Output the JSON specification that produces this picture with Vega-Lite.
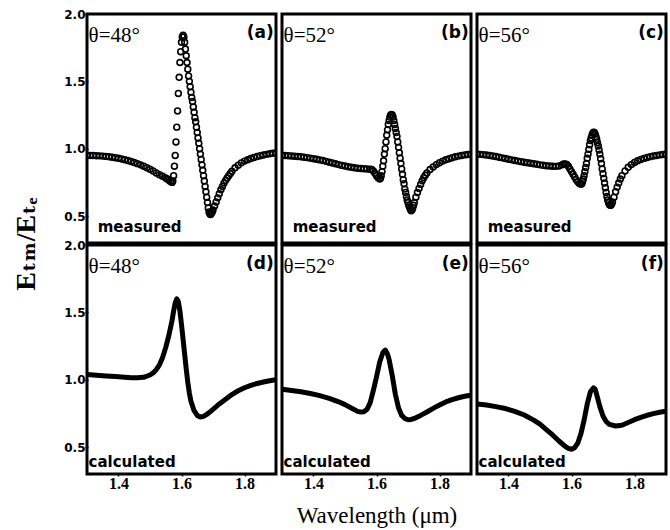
{
  "$schema": "https://vega.github.io/schema/vega-lite/v6.json",
  "padding": {"left": 13, "top": 8, "right": 3, "bottom": 3},
  "background": "white",
  "data": {"values": [
    {"k":"measured","t":48,"ang":"θ=48°","lab":"(a)"},
    {"k":"measured","t":52,"ang":"θ=52°","lab":"(b)"},
    {"k":"measured","t":56,"ang":"θ=56°","lab":"(c)"},
    {"k":"calculated","t":48,"ang":"θ=48°","lab":"(d)"},
    {"k":"calculated","t":52,"ang":"θ=52°","lab":"(e)"},
    {"k":"calculated","t":56,"ang":"θ=56°","lab":"(f)"},
    {"k":"measured","t":48,"x":1.30,"y":0.950},{"k":"measured","t":48,"x":1.31,"y":0.950},{"k":"measured","t":48,"x":1.32,"y":0.949},{"k":"measured","t":48,"x":1.33,"y":0.948},{"k":"measured","t":48,"x":1.34,"y":0.947},{"k":"measured","t":48,"x":1.35,"y":0.945},{"k":"measured","t":48,"x":1.36,"y":0.943},{"k":"measured","t":48,"x":1.37,"y":0.940},{"k":"measured","t":48,"x":1.38,"y":0.937},{"k":"measured","t":48,"x":1.39,"y":0.933},{"k":"measured","t":48,"x":1.40,"y":0.929},{"k":"measured","t":48,"x":1.41,"y":0.924},{"k":"measured","t":48,"x":1.42,"y":0.918},{"k":"measured","t":48,"x":1.43,"y":0.912},{"k":"measured","t":48,"x":1.44,"y":0.905},{"k":"measured","t":48,"x":1.45,"y":0.897},{"k":"measured","t":48,"x":1.46,"y":0.889},{"k":"measured","t":48,"x":1.47,"y":0.880},{"k":"measured","t":48,"x":1.48,"y":0.870},{"k":"measured","t":48,"x":1.49,"y":0.859},{"k":"measured","t":48,"x":1.50,"y":0.847},{"k":"measured","t":48,"x":1.51,"y":0.834},{"k":"measured","t":48,"x":1.52,"y":0.820},{"k":"measured","t":48,"x":1.53,"y":0.807},{"k":"measured","t":48,"x":1.54,"y":0.795},{"k":"measured","t":48,"x":1.55,"y":0.782},{"k":"measured","t":48,"x":1.555,"y":0.775},{"k":"measured","t":48,"x":1.56,"y":0.766},{"k":"measured","t":48,"x":1.565,"y":0.757},{"k":"measured","t":48,"x":1.57,"y":0.750},{"k":"measured","t":48,"x":1.5725,"y":0.76},{"k":"measured","t":48,"x":1.575,"y":0.80},{"k":"measured","t":48,"x":1.5775,"y":0.87},{"k":"measured","t":48,"x":1.58,"y":0.95},{"k":"measured","t":48,"x":1.5825,"y":1.05},{"k":"measured","t":48,"x":1.585,"y":1.16},{"k":"measured","t":48,"x":1.5875,"y":1.28},{"k":"measured","t":48,"x":1.59,"y":1.41},{"k":"measured","t":48,"x":1.5925,"y":1.53},{"k":"measured","t":48,"x":1.595,"y":1.64},{"k":"measured","t":48,"x":1.5975,"y":1.72},{"k":"measured","t":48,"x":1.60,"y":1.79},{"k":"measured","t":48,"x":1.6025,"y":1.83},{"k":"measured","t":48,"x":1.605,"y":1.843},{"k":"measured","t":48,"x":1.6075,"y":1.83},{"k":"measured","t":48,"x":1.61,"y":1.79},{"k":"measured","t":48,"x":1.6125,"y":1.74},{"k":"measured","t":48,"x":1.615,"y":1.69},{"k":"measured","t":48,"x":1.6175,"y":1.64},{"k":"measured","t":48,"x":1.62,"y":1.59},{"k":"measured","t":48,"x":1.6225,"y":1.54},{"k":"measured","t":48,"x":1.625,"y":1.50},{"k":"measured","t":48,"x":1.6275,"y":1.46},{"k":"measured","t":48,"x":1.63,"y":1.42},{"k":"measured","t":48,"x":1.6325,"y":1.38},{"k":"measured","t":48,"x":1.635,"y":1.35},{"k":"measured","t":48,"x":1.6375,"y":1.31},{"k":"measured","t":48,"x":1.64,"y":1.27},{"k":"measured","t":48,"x":1.6425,"y":1.23},{"k":"measured","t":48,"x":1.645,"y":1.20},{"k":"measured","t":48,"x":1.6475,"y":1.16},{"k":"measured","t":48,"x":1.65,"y":1.12},{"k":"measured","t":48,"x":1.6525,"y":1.08},{"k":"measured","t":48,"x":1.655,"y":1.04},{"k":"measured","t":48,"x":1.6575,"y":1.00},{"k":"measured","t":48,"x":1.66,"y":0.96},{"k":"measured","t":48,"x":1.6625,"y":0.92},{"k":"measured","t":48,"x":1.665,"y":0.88},{"k":"measured","t":48,"x":1.6675,"y":0.84},{"k":"measured","t":48,"x":1.67,"y":0.80},{"k":"measured","t":48,"x":1.6725,"y":0.76},{"k":"measured","t":48,"x":1.675,"y":0.72},{"k":"measured","t":48,"x":1.6775,"y":0.68},{"k":"measured","t":48,"x":1.68,"y":0.64},{"k":"measured","t":48,"x":1.6825,"y":0.60},{"k":"measured","t":48,"x":1.685,"y":0.56},{"k":"measured","t":48,"x":1.6875,"y":0.53},{"k":"measured","t":48,"x":1.69,"y":0.515},{"k":"measured","t":48,"x":1.6925,"y":0.512},{"k":"measured","t":48,"x":1.695,"y":0.52},{"k":"measured","t":48,"x":1.6975,"y":0.53},{"k":"measured","t":48,"x":1.70,"y":0.545},{"k":"measured","t":48,"x":1.705,"y":0.575},{"k":"measured","t":48,"x":1.71,"y":0.605},{"k":"measured","t":48,"x":1.715,"y":0.635},{"k":"measured","t":48,"x":1.72,"y":0.665},{"k":"measured","t":48,"x":1.725,"y":0.695},{"k":"measured","t":48,"x":1.73,"y":0.72},{"k":"measured","t":48,"x":1.735,"y":0.745},{"k":"measured","t":48,"x":1.74,"y":0.765},{"k":"measured","t":48,"x":1.745,"y":0.783},{"k":"measured","t":48,"x":1.75,"y":0.80},{"k":"measured","t":48,"x":1.755,"y":0.816},{"k":"measured","t":48,"x":1.76,"y":0.832},{"k":"measured","t":48,"x":1.77,"y":0.858},{"k":"measured","t":48,"x":1.78,"y":0.878},{"k":"measured","t":48,"x":1.79,"y":0.895},{"k":"measured","t":48,"x":1.80,"y":0.908},{"k":"measured","t":48,"x":1.81,"y":0.918},{"k":"measured","t":48,"x":1.82,"y":0.927},{"k":"measured","t":48,"x":1.83,"y":0.935},{"k":"measured","t":48,"x":1.84,"y":0.942},{"k":"measured","t":48,"x":1.85,"y":0.948},{"k":"measured","t":48,"x":1.86,"y":0.953},{"k":"measured","t":48,"x":1.87,"y":0.958},{"k":"measured","t":48,"x":1.88,"y":0.962},{"k":"measured","t":48,"x":1.89,"y":0.966},{"k":"measured","t":48,"x":1.90,"y":0.968},
    {"k":"measured","t":52,"x":1.30,"y":0.950},{"k":"measured","t":52,"x":1.31,"y":0.949},{"k":"measured","t":52,"x":1.32,"y":0.948},{"k":"measured","t":52,"x":1.33,"y":0.946},{"k":"measured","t":52,"x":1.34,"y":0.944},{"k":"measured","t":52,"x":1.35,"y":0.942},{"k":"measured","t":52,"x":1.36,"y":0.940},{"k":"measured","t":52,"x":1.37,"y":0.937},{"k":"measured","t":52,"x":1.38,"y":0.934},{"k":"measured","t":52,"x":1.39,"y":0.930},{"k":"measured","t":52,"x":1.40,"y":0.926},{"k":"measured","t":52,"x":1.41,"y":0.922},{"k":"measured","t":52,"x":1.42,"y":0.917},{"k":"measured","t":52,"x":1.43,"y":0.912},{"k":"measured","t":52,"x":1.44,"y":0.906},{"k":"measured","t":52,"x":1.45,"y":0.900},{"k":"measured","t":52,"x":1.46,"y":0.894},{"k":"measured","t":52,"x":1.47,"y":0.888},{"k":"measured","t":52,"x":1.48,"y":0.882},{"k":"measured","t":52,"x":1.49,"y":0.876},{"k":"measured","t":52,"x":1.50,"y":0.871},{"k":"measured","t":52,"x":1.51,"y":0.866},{"k":"measured","t":52,"x":1.52,"y":0.862},{"k":"measured","t":52,"x":1.53,"y":0.858},{"k":"measured","t":52,"x":1.54,"y":0.855},{"k":"measured","t":52,"x":1.55,"y":0.853},{"k":"measured","t":52,"x":1.56,"y":0.851},{"k":"measured","t":52,"x":1.57,"y":0.850},{"k":"measured","t":52,"x":1.58,"y":0.848},{"k":"measured","t":52,"x":1.585,"y":0.845},{"k":"measured","t":52,"x":1.59,"y":0.835},{"k":"measured","t":52,"x":1.595,"y":0.818},{"k":"measured","t":52,"x":1.60,"y":0.800},{"k":"measured","t":52,"x":1.605,"y":0.785},{"k":"measured","t":52,"x":1.61,"y":0.775},{"k":"measured","t":52,"x":1.6125,"y":0.78},{"k":"measured","t":52,"x":1.615,"y":0.80},{"k":"measured","t":52,"x":1.6175,"y":0.83},{"k":"measured","t":52,"x":1.62,"y":0.87},{"k":"measured","t":52,"x":1.6225,"y":0.91},{"k":"measured","t":52,"x":1.625,"y":0.96},{"k":"measured","t":52,"x":1.6275,"y":1.00},{"k":"measured","t":52,"x":1.63,"y":1.05},{"k":"measured","t":52,"x":1.6325,"y":1.10},{"k":"measured","t":52,"x":1.635,"y":1.14},{"k":"measured","t":52,"x":1.6375,"y":1.18},{"k":"measured","t":52,"x":1.64,"y":1.21},{"k":"measured","t":52,"x":1.6425,"y":1.235},{"k":"measured","t":52,"x":1.645,"y":1.25},{"k":"measured","t":52,"x":1.6475,"y":1.255},{"k":"measured","t":52,"x":1.65,"y":1.25},{"k":"measured","t":52,"x":1.6525,"y":1.235},{"k":"measured","t":52,"x":1.655,"y":1.21},{"k":"measured","t":52,"x":1.6575,"y":1.18},{"k":"measured","t":52,"x":1.66,"y":1.15},{"k":"measured","t":52,"x":1.6625,"y":1.12},{"k":"measured","t":52,"x":1.665,"y":1.09},{"k":"measured","t":52,"x":1.6675,"y":1.05},{"k":"measured","t":52,"x":1.67,"y":1.01},{"k":"measured","t":52,"x":1.6725,"y":0.97},{"k":"measured","t":52,"x":1.675,"y":0.93},{"k":"measured","t":52,"x":1.6775,"y":0.89},{"k":"measured","t":52,"x":1.68,"y":0.85},{"k":"measured","t":52,"x":1.6825,"y":0.81},{"k":"measured","t":52,"x":1.685,"y":0.77},{"k":"measured","t":52,"x":1.6875,"y":0.74},{"k":"measured","t":52,"x":1.69,"y":0.70},{"k":"measured","t":52,"x":1.6925,"y":0.675},{"k":"measured","t":52,"x":1.695,"y":0.645},{"k":"measured","t":52,"x":1.6975,"y":0.62},{"k":"measured","t":52,"x":1.70,"y":0.60},{"k":"measured","t":52,"x":1.7025,"y":0.58},{"k":"measured","t":52,"x":1.705,"y":0.565},{"k":"measured","t":52,"x":1.7075,"y":0.55},{"k":"measured","t":52,"x":1.71,"y":0.54},{"k":"measured","t":52,"x":1.7125,"y":0.545},{"k":"measured","t":52,"x":1.715,"y":0.56},{"k":"measured","t":52,"x":1.7175,"y":0.58},{"k":"measured","t":52,"x":1.72,"y":0.60},{"k":"measured","t":52,"x":1.725,"y":0.64},{"k":"measured","t":52,"x":1.73,"y":0.675},{"k":"measured","t":52,"x":1.735,"y":0.705},{"k":"measured","t":52,"x":1.74,"y":0.735},{"k":"measured","t":52,"x":1.745,"y":0.762},{"k":"measured","t":52,"x":1.75,"y":0.785},{"k":"measured","t":52,"x":1.755,"y":0.803},{"k":"measured","t":52,"x":1.76,"y":0.82},{"k":"measured","t":52,"x":1.77,"y":0.845},{"k":"measured","t":52,"x":1.78,"y":0.865},{"k":"measured","t":52,"x":1.79,"y":0.882},{"k":"measured","t":52,"x":1.80,"y":0.896},{"k":"measured","t":52,"x":1.81,"y":0.908},{"k":"measured","t":52,"x":1.82,"y":0.918},{"k":"measured","t":52,"x":1.83,"y":0.926},{"k":"measured","t":52,"x":1.84,"y":0.933},{"k":"measured","t":52,"x":1.85,"y":0.940},{"k":"measured","t":52,"x":1.86,"y":0.945},{"k":"measured","t":52,"x":1.87,"y":0.950},{"k":"measured","t":52,"x":1.88,"y":0.954},{"k":"measured","t":52,"x":1.89,"y":0.957},{"k":"measured","t":52,"x":1.90,"y":0.960},
    {"k":"measured","t":56,"x":1.30,"y":0.960},{"k":"measured","t":56,"x":1.31,"y":0.958},{"k":"measured","t":56,"x":1.32,"y":0.956},{"k":"measured","t":56,"x":1.33,"y":0.953},{"k":"measured","t":56,"x":1.34,"y":0.950},{"k":"measured","t":56,"x":1.35,"y":0.946},{"k":"measured","t":56,"x":1.36,"y":0.942},{"k":"measured","t":56,"x":1.37,"y":0.937},{"k":"measured","t":56,"x":1.38,"y":0.932},{"k":"measured","t":56,"x":1.39,"y":0.927},{"k":"measured","t":56,"x":1.40,"y":0.922},{"k":"measured","t":56,"x":1.41,"y":0.917},{"k":"measured","t":56,"x":1.42,"y":0.912},{"k":"measured","t":56,"x":1.43,"y":0.908},{"k":"measured","t":56,"x":1.44,"y":0.904},{"k":"measured","t":56,"x":1.45,"y":0.900},{"k":"measured","t":56,"x":1.46,"y":0.896},{"k":"measured","t":56,"x":1.47,"y":0.892},{"k":"measured","t":56,"x":1.48,"y":0.888},{"k":"measured","t":56,"x":1.49,"y":0.884},{"k":"measured","t":56,"x":1.50,"y":0.880},{"k":"measured","t":56,"x":1.51,"y":0.877},{"k":"measured","t":56,"x":1.52,"y":0.874},{"k":"measured","t":56,"x":1.53,"y":0.872},{"k":"measured","t":56,"x":1.54,"y":0.870},{"k":"measured","t":56,"x":1.55,"y":0.869},{"k":"measured","t":56,"x":1.56,"y":0.872},{"k":"measured","t":56,"x":1.57,"y":0.880},{"k":"measured","t":56,"x":1.575,"y":0.886},{"k":"measured","t":56,"x":1.58,"y":0.887},{"k":"measured","t":56,"x":1.585,"y":0.883},{"k":"measured","t":56,"x":1.59,"y":0.870},{"k":"measured","t":56,"x":1.595,"y":0.850},{"k":"measured","t":56,"x":1.60,"y":0.830},{"k":"measured","t":56,"x":1.605,"y":0.810},{"k":"measured","t":56,"x":1.61,"y":0.790},{"k":"measured","t":56,"x":1.615,"y":0.770},{"k":"measured","t":56,"x":1.62,"y":0.755},{"k":"measured","t":56,"x":1.625,"y":0.742},{"k":"measured","t":56,"x":1.63,"y":0.737},{"k":"measured","t":56,"x":1.6325,"y":0.74},{"k":"measured","t":56,"x":1.635,"y":0.755},{"k":"measured","t":56,"x":1.6375,"y":0.775},{"k":"measured","t":56,"x":1.64,"y":0.80},{"k":"measured","t":56,"x":1.6425,"y":0.83},{"k":"measured","t":56,"x":1.645,"y":0.86},{"k":"measured","t":56,"x":1.6475,"y":0.89},{"k":"measured","t":56,"x":1.65,"y":0.93},{"k":"measured","t":56,"x":1.6525,"y":0.96},{"k":"measured","t":56,"x":1.655,"y":0.995},{"k":"measured","t":56,"x":1.6575,"y":1.03},{"k":"measured","t":56,"x":1.66,"y":1.06},{"k":"measured","t":56,"x":1.6625,"y":1.08},{"k":"measured","t":56,"x":1.665,"y":1.10},{"k":"measured","t":56,"x":1.6675,"y":1.115},{"k":"measured","t":56,"x":1.67,"y":1.122},{"k":"measured","t":56,"x":1.6725,"y":1.12},{"k":"measured","t":56,"x":1.675,"y":1.11},{"k":"measured","t":56,"x":1.6775,"y":1.09},{"k":"measured","t":56,"x":1.68,"y":1.07},{"k":"measured","t":56,"x":1.6825,"y":1.045},{"k":"measured","t":56,"x":1.685,"y":1.02},{"k":"measured","t":56,"x":1.6875,"y":0.99},{"k":"measured","t":56,"x":1.69,"y":0.96},{"k":"measured","t":56,"x":1.6925,"y":0.925},{"k":"measured","t":56,"x":1.695,"y":0.89},{"k":"measured","t":56,"x":1.6975,"y":0.85},{"k":"measured","t":56,"x":1.70,"y":0.815},{"k":"measured","t":56,"x":1.7025,"y":0.78},{"k":"measured","t":56,"x":1.705,"y":0.745},{"k":"measured","t":56,"x":1.7075,"y":0.71},{"k":"measured","t":56,"x":1.71,"y":0.675},{"k":"measured","t":56,"x":1.7125,"y":0.645},{"k":"measured","t":56,"x":1.715,"y":0.62},{"k":"measured","t":56,"x":1.7175,"y":0.60},{"k":"measured","t":56,"x":1.72,"y":0.585},{"k":"measured","t":56,"x":1.7225,"y":0.58},{"k":"measured","t":56,"x":1.725,"y":0.58},{"k":"measured","t":56,"x":1.7275,"y":0.59},{"k":"measured","t":56,"x":1.73,"y":0.605},{"k":"measured","t":56,"x":1.735,"y":0.64},{"k":"measured","t":56,"x":1.74,"y":0.68},{"k":"measured","t":56,"x":1.745,"y":0.715},{"k":"measured","t":56,"x":1.75,"y":0.745},{"k":"measured","t":56,"x":1.755,"y":0.775},{"k":"measured","t":56,"x":1.76,"y":0.80},{"k":"measured","t":56,"x":1.77,"y":0.835},{"k":"measured","t":56,"x":1.78,"y":0.862},{"k":"measured","t":56,"x":1.79,"y":0.882},{"k":"measured","t":56,"x":1.80,"y":0.898},{"k":"measured","t":56,"x":1.81,"y":0.910},{"k":"measured","t":56,"x":1.82,"y":0.920},{"k":"measured","t":56,"x":1.83,"y":0.928},{"k":"measured","t":56,"x":1.84,"y":0.935},{"k":"measured","t":56,"x":1.85,"y":0.941},{"k":"measured","t":56,"x":1.86,"y":0.946},{"k":"measured","t":56,"x":1.87,"y":0.950},{"k":"measured","t":56,"x":1.88,"y":0.954},{"k":"measured","t":56,"x":1.89,"y":0.957},{"k":"measured","t":56,"x":1.90,"y":0.960},
    {"k":"calculated","t":48,"x":1.30,"y":1.038},{"k":"calculated","t":48,"x":1.33,"y":1.033},{"k":"calculated","t":48,"x":1.36,"y":1.028},{"k":"calculated","t":48,"x":1.39,"y":1.024},{"k":"calculated","t":48,"x":1.42,"y":1.019},{"k":"calculated","t":48,"x":1.44,"y":1.015},{"k":"calculated","t":48,"x":1.46,"y":1.014},{"k":"calculated","t":48,"x":1.48,"y":1.018},{"k":"calculated","t":48,"x":1.50,"y":1.035},{"k":"calculated","t":48,"x":1.51,"y":1.05},{"k":"calculated","t":48,"x":1.52,"y":1.075},{"k":"calculated","t":48,"x":1.53,"y":1.11},{"k":"calculated","t":48,"x":1.54,"y":1.165},{"k":"calculated","t":48,"x":1.55,"y":1.24},{"k":"calculated","t":48,"x":1.56,"y":1.33},{"k":"calculated","t":48,"x":1.57,"y":1.44},{"k":"calculated","t":48,"x":1.575,"y":1.51},{"k":"calculated","t":48,"x":1.58,"y":1.57},{"k":"calculated","t":48,"x":1.585,"y":1.60},{"k":"calculated","t":48,"x":1.59,"y":1.58},{"k":"calculated","t":48,"x":1.595,"y":1.51},{"k":"calculated","t":48,"x":1.60,"y":1.41},{"k":"calculated","t":48,"x":1.605,"y":1.30},{"k":"calculated","t":48,"x":1.61,"y":1.19},{"k":"calculated","t":48,"x":1.615,"y":1.08},{"k":"calculated","t":48,"x":1.62,"y":0.98},{"k":"calculated","t":48,"x":1.625,"y":0.90},{"k":"calculated","t":48,"x":1.63,"y":0.84},{"k":"calculated","t":48,"x":1.64,"y":0.77},{"k":"calculated","t":48,"x":1.65,"y":0.735},{"k":"calculated","t":48,"x":1.66,"y":0.723},{"k":"calculated","t":48,"x":1.67,"y":0.728},{"k":"calculated","t":48,"x":1.68,"y":0.742},{"k":"calculated","t":48,"x":1.69,"y":0.76},{"k":"calculated","t":48,"x":1.70,"y":0.78},{"k":"calculated","t":48,"x":1.72,"y":0.82},{"k":"calculated","t":48,"x":1.74,"y":0.855},{"k":"calculated","t":48,"x":1.76,"y":0.89},{"k":"calculated","t":48,"x":1.78,"y":0.918},{"k":"calculated","t":48,"x":1.80,"y":0.94},{"k":"calculated","t":48,"x":1.82,"y":0.958},{"k":"calculated","t":48,"x":1.84,"y":0.972},{"k":"calculated","t":48,"x":1.86,"y":0.983},{"k":"calculated","t":48,"x":1.88,"y":0.992},{"k":"calculated","t":48,"x":1.90,"y":1.00},
    {"k":"calculated","t":52,"x":1.30,"y":0.930},{"k":"calculated","t":52,"x":1.33,"y":0.920},{"k":"calculated","t":52,"x":1.36,"y":0.910},{"k":"calculated","t":52,"x":1.39,"y":0.898},{"k":"calculated","t":52,"x":1.42,"y":0.882},{"k":"calculated","t":52,"x":1.45,"y":0.862},{"k":"calculated","t":52,"x":1.48,"y":0.836},{"k":"calculated","t":52,"x":1.50,"y":0.815},{"k":"calculated","t":52,"x":1.52,"y":0.790},{"k":"calculated","t":52,"x":1.54,"y":0.765},{"k":"calculated","t":52,"x":1.55,"y":0.760},{"k":"calculated","t":52,"x":1.56,"y":0.762},{"k":"calculated","t":52,"x":1.57,"y":0.78},{"k":"calculated","t":52,"x":1.58,"y":0.83},{"k":"calculated","t":52,"x":1.59,"y":0.92},{"k":"calculated","t":52,"x":1.60,"y":1.02},{"k":"calculated","t":52,"x":1.61,"y":1.13},{"k":"calculated","t":52,"x":1.62,"y":1.20},{"k":"calculated","t":52,"x":1.628,"y":1.22},{"k":"calculated","t":52,"x":1.635,"y":1.19},{"k":"calculated","t":52,"x":1.64,"y":1.15},{"k":"calculated","t":52,"x":1.65,"y":1.03},{"k":"calculated","t":52,"x":1.66,"y":0.89},{"k":"calculated","t":52,"x":1.67,"y":0.79},{"k":"calculated","t":52,"x":1.68,"y":0.735},{"k":"calculated","t":52,"x":1.69,"y":0.712},{"k":"calculated","t":52,"x":1.70,"y":0.703},{"k":"calculated","t":52,"x":1.71,"y":0.705},{"k":"calculated","t":52,"x":1.72,"y":0.712},{"k":"calculated","t":52,"x":1.74,"y":0.735},{"k":"calculated","t":52,"x":1.76,"y":0.76},{"k":"calculated","t":52,"x":1.78,"y":0.787},{"k":"calculated","t":52,"x":1.80,"y":0.812},{"k":"calculated","t":52,"x":1.82,"y":0.835},{"k":"calculated","t":52,"x":1.84,"y":0.852},{"k":"calculated","t":52,"x":1.86,"y":0.866},{"k":"calculated","t":52,"x":1.88,"y":0.877},{"k":"calculated","t":52,"x":1.90,"y":0.885},
    {"k":"calculated","t":56,"x":1.30,"y":0.820},{"k":"calculated","t":56,"x":1.33,"y":0.812},{"k":"calculated","t":56,"x":1.36,"y":0.800},{"k":"calculated","t":56,"x":1.39,"y":0.786},{"k":"calculated","t":56,"x":1.42,"y":0.765},{"k":"calculated","t":56,"x":1.45,"y":0.738},{"k":"calculated","t":56,"x":1.48,"y":0.700},{"k":"calculated","t":56,"x":1.50,"y":0.670},{"k":"calculated","t":56,"x":1.52,"y":0.630},{"k":"calculated","t":56,"x":1.54,"y":0.590},{"k":"calculated","t":56,"x":1.56,"y":0.545},{"k":"calculated","t":56,"x":1.58,"y":0.505},{"k":"calculated","t":56,"x":1.59,"y":0.490},{"k":"calculated","t":56,"x":1.60,"y":0.484},{"k":"calculated","t":56,"x":1.61,"y":0.495},{"k":"calculated","t":56,"x":1.62,"y":0.53},{"k":"calculated","t":56,"x":1.63,"y":0.60},{"k":"calculated","t":56,"x":1.64,"y":0.70},{"k":"calculated","t":56,"x":1.65,"y":0.82},{"k":"calculated","t":56,"x":1.66,"y":0.91},{"k":"calculated","t":56,"x":1.67,"y":0.94},{"k":"calculated","t":56,"x":1.675,"y":0.93},{"k":"calculated","t":56,"x":1.68,"y":0.89},{"k":"calculated","t":56,"x":1.69,"y":0.80},{"k":"calculated","t":56,"x":1.70,"y":0.73},{"k":"calculated","t":56,"x":1.71,"y":0.69},{"k":"calculated","t":56,"x":1.72,"y":0.668},{"k":"calculated","t":56,"x":1.74,"y":0.656},{"k":"calculated","t":56,"x":1.76,"y":0.662},{"k":"calculated","t":56,"x":1.78,"y":0.682},{"k":"calculated","t":56,"x":1.80,"y":0.703},{"k":"calculated","t":56,"x":1.82,"y":0.72},{"k":"calculated","t":56,"x":1.84,"y":0.736},{"k":"calculated","t":56,"x":1.86,"y":0.748},{"k":"calculated","t":56,"x":1.88,"y":0.758},{"k":"calculated","t":56,"x":1.90,"y":0.766}
  ]},
  "facet": {
    "row": {"field": "k", "type": "nominal", "sort": ["measured", "calculated"],
      "header": {"labels": false, "title": "Eₜₘ/Eₜₑ", "titleOrient": "left", "titleFont": "Liberation Serif, DejaVu Serif", "titleFontSize": 28, "titleFontWeight": "bold", "titleColor": "black", "titlePadding": 12}},
    "column": {"field": "t", "type": "ordinal",
      "header": {"labels": false, "title": "Wavelength (μm)", "titleOrient": "bottom", "titleFont": "Liberation Serif", "titleFontSize": 23, "titleFontWeight": "normal", "titleColor": "black", "titlePadding": 4}}
  },
  "spacing": {"row": -3, "column": 2},
  "spec": {
    "width": 189,
    "height": 229,
    "layer": [
      {
        "transform": [{"filter": "datum.k == 'measured' && isValid(datum.x)"}],
        "mark": {"type": "point", "shape": "circle", "filled": false, "color": "black", "strokeWidth": 1.6, "size": 34, "opacity": 1, "clip": true},
        "encoding": {
          "x": {"field": "x", "type": "quantitative", "scale": {"domain": [1.3, 1.9], "nice": false, "zero": false},
            "axis": {"title": null, "values": [1.4, 1.6, 1.8], "format": ".1f", "labelFont": "Liberation Serif", "labelFontWeight": "bold", "labelFontSize": 16, "labelPadding": 2}},
          "y": {"field": "y", "type": "quantitative", "scale": {"domain": [0.3, 2.0], "nice": false, "zero": false},
            "axis": {"title": null, "values": [0.5, 0.75, 1, 1.25, 1.5, 1.75, 2.0], "labelFont": "DejaVu Sans", "labelFontWeight": "bold", "labelFontSize": 12, "labelPadding": 3,
              "labelExpr": "(datum.value*2) % 1 == 0 ? format(datum.value, '.1f') : ''"}}
        }
      },
      {
        "transform": [{"filter": "datum.k == 'calculated' && isValid(datum.x)"}],
        "mark": {"type": "line", "color": "black", "strokeWidth": 5, "strokeJoin": "round", "strokeCap": "round", "clip": true},
        "encoding": {
          "x": {"field": "x", "type": "quantitative"},
          "y": {"field": "y", "type": "quantitative"}
        }
      },
      {
        "transform": [{"filter": "isValid(datum.ang)"}],
        "mark": {"type": "text", "align": "left", "baseline": "middle", "font": "Liberation Serif", "fontSize": 21, "fontWeight": "normal", "color": "black"},
        "encoding": {
          "x": {"datum": 1.305},
          "y": {"datum": 1.84},
          "text": {"field": "ang"}
        }
      },
      {
        "transform": [{"filter": "isValid(datum.lab)"}],
        "mark": {"type": "text", "align": "right", "baseline": "middle", "font": "DejaVu Sans", "fontSize": 17, "fontWeight": "bold", "color": "black"},
        "encoding": {
          "x": {"datum": 1.893},
          "y": {"datum": 1.86},
          "text": {"field": "lab"}
        }
      },
      {
        "transform": [{"filter": "isValid(datum.lab) && datum.k == 'measured'"}],
        "mark": {"type": "text", "align": "left", "baseline": "middle", "font": "DejaVu Sans", "fontSize": 15, "fontWeight": "bold", "color": "black"},
        "encoding": {
          "x": {"datum": 1.334},
          "y": {"datum": 0.42},
          "text": {"field": "k"}
        }
      },
      {
        "transform": [{"filter": "isValid(datum.lab) && datum.k == 'calculated'"}],
        "mark": {"type": "text", "align": "left", "baseline": "middle", "font": "DejaVu Sans", "fontSize": 15, "fontWeight": "bold", "color": "black"},
        "encoding": {
          "x": {"datum": 1.305},
          "y": {"datum": 0.39},
          "text": {"field": "k"}
        }
      }
    ]
  },
  "config": {
    "view": {"stroke": "black", "strokeWidth": 3},
    "axis": {"grid": false, "domain": false, "tickSize": -3, "tickColor": "black", "tickWidth": 1.5, "labelColor": "black", "labelOverlap": false, "labelFlush": false},
    "axisX": {"labelFont": "Liberation Serif", "labelFontWeight": "bold", "labelFontSize": 16}
  }
}
